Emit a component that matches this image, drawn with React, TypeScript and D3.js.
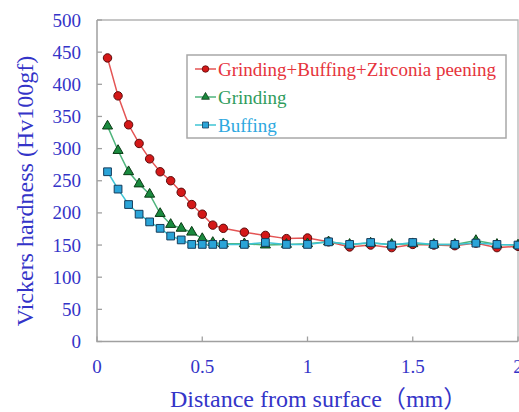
// hardness vs depth line chart
import { useEffect, useRef } from 'react';
import * as d3 from 'd3';

const distance = [0.05, 0.1, 0.15, 0.2, 0.25, 0.3, 0.35, 0.4, 0.45, 0.5, 0.55, 0.6,
  0.7, 0.8, 0.9, 1.0, 1.1, 1.2, 1.3, 1.4, 1.5, 1.6, 1.7, 1.8, 1.9, 2.0];
const peening = [441, 382, 337, 308, 284, 264, 250, 232, 213, 198, 181, 176,
  170, 165, 160, 161, 155, 147, 150, 146, 151, 150, 149, 153, 146, 148];
const grinding = [335, 297, 264, 245, 229, 199, 182, 176, 170, 160, 154, 152,
  152, 150, 151, 152, 155, 151, 153, 151, 152, 151, 151, 157, 151, 150];
const buffing = [264, 237, 213, 198, 186, 176, 164, 158, 151, 151, 151, 151,
  151, 154, 151, 151, 155, 151, 154, 150, 154, 151, 151, 153, 151, 150];
const seriesNames = ['Grinding+Buffing+Zirconia peening', 'Grinding', 'Buffing'];
const yTicks = [0, 50, 100, 150, 200, 250, 300, 350, 400, 450, 500];
const xTicks = [0, 0.5, 1, 1.5, 2];

const useD3 = (renderChartFn: (svg: any) => void, dependencies: any[]) => {
  const ref = useRef<SVGSVGElement>(null);
  useEffect(() => {
    renderChartFn(d3.select(ref.current));
  }, dependencies);
  return ref;
};

function HardnessChart() {
  const ref = useD3((svg) => {
    svg.selectAll('*').remove();
    const left = 97, right = 518, top = 20, bottom = 341.5;
    const font = 'Liberation Serif, Tinos, DejaVu Serif, Times New Roman, serif';
    const blue = '#3434c8';

    const x = d3.scaleLinear().domain([0, 2]).range([left, right]);
    const y = d3.scaleLinear().domain([0, 500]).range([bottom, top]);

    // frame
    svg.append('path')
      .attr('d', `M${left},${top}H${right}V${bottom}`)
      .attr('fill', 'none').attr('stroke', '#b4b4b4').attr('stroke-width', 1.3);
    svg.append('path')
      .attr('d', `M${left},${top}V${bottom}H${right}`)
      .attr('fill', 'none').attr('stroke', '#a0a0a0').attr('stroke-width', 1.5);

    // y ticks
    const yg = svg.append('g');
    yTicks.forEach((t) => {
      yg.append('line').attr('x1', left).attr('x2', left + 5)
        .attr('y1', y(t)).attr('y2', y(t)).attr('stroke', '#a0a0a0').attr('stroke-width', 1.3);
      yg.append('text').attr('x', 81).attr('y', y(t) + 6.5)
        .attr('text-anchor', 'end').style('font-family', font).style('font-size', '19px')
        .attr('fill', blue).text(t);
    });
    // x ticks
    const xg = svg.append('g');
    xTicks.forEach((t) => {
      xg.append('line').attr('x1', x(t)).attr('x2', x(t))
        .attr('y1', bottom).attr('y2', bottom - 5).attr('stroke', '#a0a0a0').attr('stroke-width', 1.3);
      xg.append('text').attr('x', x(t)).attr('y', 373)
        .attr('text-anchor', 'middle').style('font-family', font).style('font-size', '19px')
        .attr('fill', blue).text(t);
    });

    // axis titles
    svg.append('text').attr('x', 170).attr('y', 407)
      .style('font-family', font + ', Noto Sans CJK JP').style('font-size', '24px')
      .attr('fill', blue).text('Distance from surface（mm）');
    svg.append('text').attr('transform', 'translate(33,191) rotate(-90)')
      .attr('text-anchor', 'middle').style('font-family', font).style('font-size', '24px')
      .attr('fill', blue).text('Vickers hardness (Hv100gf)');

    const series = [
      { name: seriesNames[0], values: peening, line: '#e45454', fill: '#d41818', stroke: '#5a0a0a', text: '#e6333c', shape: d3.symbolCircle, size: 56 },
      { name: seriesNames[1], values: grinding, line: '#4fb47c', fill: '#1a8a3e', stroke: '#0a3a14', text: '#2f9c5c', shape: d3.symbolTriangle, size: 44 },
      { name: seriesNames[2], values: buffing, line: '#3fc4d4', fill: '#2aa4d8', stroke: '#163c5a', text: '#2ea8e0', shape: d3.symbolSquare, size: 60 },
    ];

    const line = d3.line<number>()
      .x((d, i) => x(distance[i]))
      .y((d) => y(d));

    series.forEach((s) => {
      svg.append('path').datum(s.values)
        .attr('d', line).attr('fill', 'none')
        .attr('stroke', s.line).attr('stroke-width', 1.5);
      svg.append('g').selectAll('path').data(s.values).join('path')
        .attr('d', d3.symbol().type(s.shape).size(s.size))
        .attr('transform', (d: number, i: number) => `translate(${x(distance[i])},${y(d)})`)
        .attr('fill', s.fill).attr('stroke', s.stroke).attr('stroke-width', 1);
    });

    // legend
    const legend = svg.append('g');
    legend.append('rect').attr('x', 187).attr('y', 55).attr('width', 319).attr('height', 83)
      .attr('fill', 'white').attr('stroke', '#a8a8a8').attr('stroke-width', 1.5);
    series.forEach((s, i) => {
      const cy = 69 + i * 28;
      legend.append('line').attr('x1', 195).attr('x2', 216).attr('y1', cy).attr('y2', cy)
        .attr('stroke', s.line).attr('stroke-width', 1.5);
      legend.append('path').attr('d', d3.symbol().type(s.shape).size(s.size * 0.6))
        .attr('transform', `translate(205.5,${cy})`)
        .attr('fill', s.fill).attr('stroke', s.stroke).attr('stroke-width', 0.8);
      legend.append('text').attr('x', 218).attr('y', cy + 6.5)
        .style('font-family', font).style('font-size', '19px').attr('fill', s.text).text(s.name);
    });
  }, []);

  return (
    <svg ref={ref} width={519} height={412}
      style={{ position: 'absolute', left: 0, top: 0, background: 'white' }} />
  );
}

export default function App() {
  return <HardnessChart />;
}
